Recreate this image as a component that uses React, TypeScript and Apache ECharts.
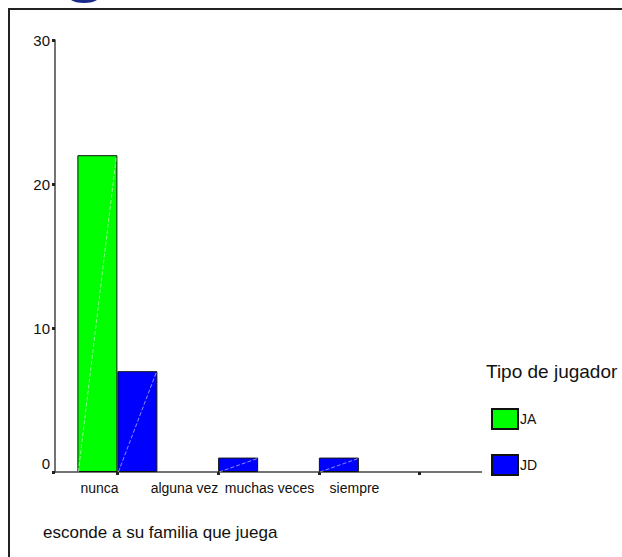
import React, { useEffect, useRef } from "react";
import * as echarts from "echarts";

const categories = ["nunca", "alguna vez", "muchas veces", "siempre"];
const seriesJA = [22, 0, 0, 0];
const seriesJD = [7, 1, 1, 0];
const legendTitle = "Tipo de jugador";
const xTitle = "esconde a su familia que juega";

const FONT = "'Liberation Sans', Arial, sans-serif";
const BAR_W = 40;

function diagRender(offset: number) {
  return (params: any, api: any) => {
    const v = api.value(1);
    if (!v) return null;
    const top = api.coord([api.value(0), v]);
    const base = api.coord([api.value(0), 0]);
    const x0 = base[0] + offset;
    return {
      type: "line",
      shape: { x1: x0 + 1, y1: base[1], x2: x0 + BAR_W - 1, y2: top[1] + 1 },
      style: { stroke: "rgba(255,255,255,0.55)", lineWidth: 1, lineDash: [4, 2] },
      silent: true,
    };
  };
}

const barData = (arr: number[]) =>
  arr.map((v) => (v === 0 ? { value: 0, itemStyle: { borderWidth: 0, opacity: 0 } } : v));

export default function App() {
  const ref = useRef<HTMLDivElement>(null);
  useEffect(() => {
    if (!ref.current) return;
    const chart = echarts.init(ref.current, null, { renderer: "svg" });
    chart.setOption({
      animation: false,
      backgroundColor: "#ffffff",
      textStyle: { fontFamily: FONT },
      grid: [
        { left: 67, width: 403, top: 40, bottom: 85 },
        { left: 57, width: 340, top: 40, bottom: 85 },
      ],
      xAxis: [
        {
          type: "category",
          data: categories,
          gridIndex: 0,
          axisLine: { show: false },
          axisTick: {
            show: true,
            alignWithLabel: true,
            length: 3,
            lineStyle: { color: "#222", width: 3 },
          },
          axisLabel: { show: false },
        },
        {
          type: "category",
          data: categories,
          gridIndex: 1,
          axisLine: { show: false },
          axisTick: { show: false },
          axisLabel: {
            show: true,
            margin: 9,
            fontSize: 14,
            color: "#111",
            fontFamily: FONT,
            interval: 0,
          },
        },
      ],
      yAxis: [
        {
          type: "value",
          gridIndex: 0,
          min: 0,
          max: 30,
          interval: 10,
          offset: 12,
          splitLine: { show: false },
          axisLine: { show: true, lineStyle: { color: "#444", width: 1.5 } },
          axisTick: { show: true, length: 3, lineStyle: { color: "#222", width: 3 } },
          axisLabel: {
            margin: 5,
            fontSize: 15,
            color: "#111",
            fontFamily: FONT,
            formatter: (v: number) => (v === 0 ? "{z|0}" : String(v)),
            rich: { z: { fontSize: 15, color: "#111", fontFamily: FONT, padding: [0, 0, 18, 0] } },
          },
        },
        {
          type: "value",
          gridIndex: 1,
          min: 0,
          max: 30,
          show: false,
        },
      ],
      legend: {
        data: ["JA", "JD"],
        orient: "vertical",
        left: 491,
        top: 408,
        padding: 0,
        itemWidth: 26,
        itemHeight: 20,
        itemGap: 24,
        icon: "rect",
        textStyle: { fontSize: 14, color: "#111", fontFamily: FONT, padding: [4, 0, 0, -3] },
      },
      series: [
        {
          name: "JA",
          type: "bar",
          data: barData(seriesJA),
          barWidth: BAR_W,
          barGap: "0%",
          itemStyle: { color: "#00ff00", borderColor: "#111", borderWidth: 1 },
        },
        {
          name: "JD",
          type: "bar",
          data: barData(seriesJD),
          barWidth: BAR_W,
          barGap: "0%",
          itemStyle: { color: "#0000ff", borderColor: "#111", borderWidth: 1 },
        },
        {
          name: "diagJA",
          type: "custom",
          data: seriesJA.map((v, i) => [i, v]),
          renderItem: diagRender(-BAR_W),
          z: 5,
          silent: true,
        },
        {
          name: "diagJD",
          type: "custom",
          data: seriesJD.map((v, i) => [i, v]),
          renderItem: diagRender(0),
          z: 5,
          silent: true,
        },
      ],
      graphic: [
        {
          type: "polyline",
          shape: { points: [[9, 557], [9, 9], [622, 9]] },
          style: { stroke: "#222", lineWidth: 2, fill: "none" },
          silent: true,
        },
        {
          type: "ellipse",
          shape: { cx: 84, cy: -3, rx: 15, ry: 6 },
          style: { fill: "#1a2a8a" },
          silent: true,
        },
        {
          type: "line",
          shape: { x1: 55, y1: 472, x2: 482, y2: 472 },
          style: { stroke: "#444", lineWidth: 1.5 },
          silent: true,
        },
        {
          type: "text",
          x: 486,
          y: 371,
          style: {
            text: legendTitle,
            fontSize: 19,
            fontFamily: FONT,
            fill: "#111",
            verticalAlign: "middle",
          },
          silent: true,
        },
        {
          type: "text",
          x: 43,
          y: 532,
          style: {
            text: xTitle,
            fontSize: 17,
            fontFamily: FONT,
            fill: "#111",
            verticalAlign: "middle",
          },
          silent: true,
        },
      ],
    });
    return () => chart.dispose();
  }, []);
  return (
    <div
      ref={ref}
      style={{ position: "fixed", left: 0, top: 0, width: 622, height: 557 }}
    />
  );
}
